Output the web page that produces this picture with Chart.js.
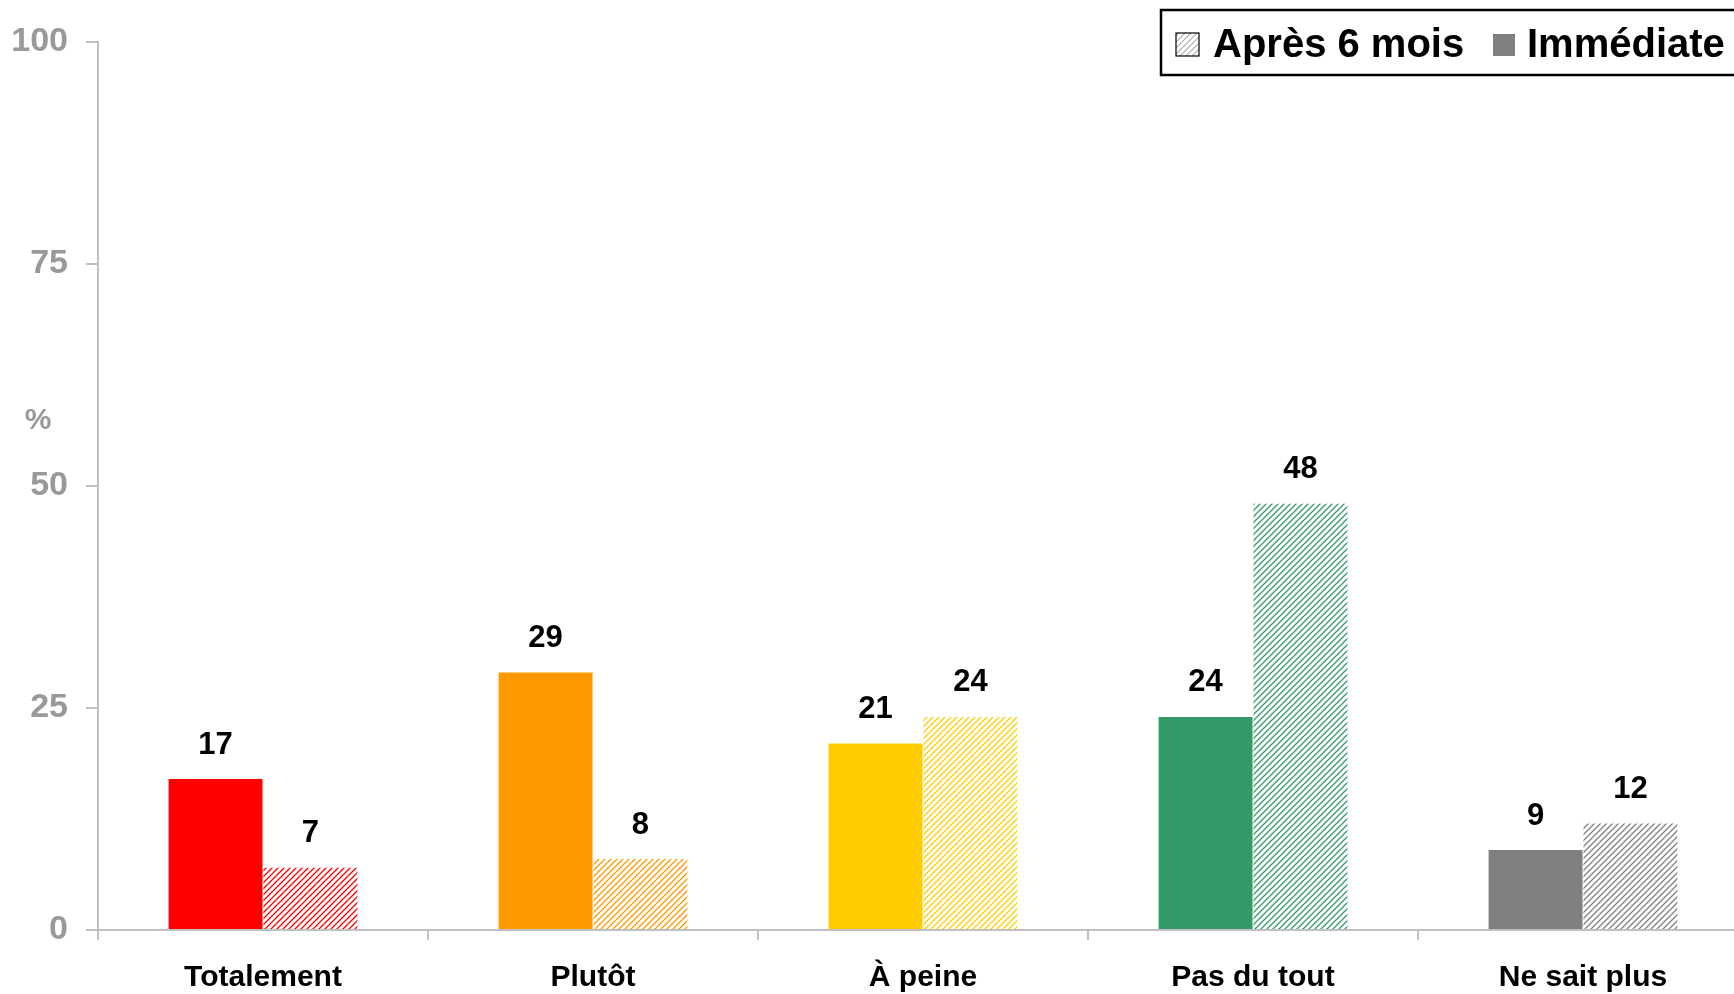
<!DOCTYPE html>
<html><head><meta charset="utf-8">
<script src="https://cdn.jsdelivr.net/npm/chart.js@4.4.1/dist/chart.umd.min.js"></script>
<style>
html,body{margin:0;padding:0;background:#fff;overflow:hidden}
#wrap{width:1760px;height:994px;position:relative}
</style>
</head><body>
<div id="wrap"><canvas id="c"></canvas></div>
<script>
const categories=["Totalement","Plutôt","À peine","Pas du tout","Ne sait plus"];
const immediate=[17,29,21,24,9];
const apres=[7,8,24,48,12];
const barColors=["#ff0000","#ff9900","#ffcc00","#339966","#808080"];
const yTicks=[0,25,50,75,100];
const seriesNames=["Immédiate","Après 6 mois"];
const yUnit="%";

const FONT="'Liberation Sans',Arial,Helvetica,sans-serif";
const cv=document.getElementById("c");
const cx=cv.getContext("2d");

// diagonal hatching like the office chart pattern
function hatch(color,w){
  const s=6,t=document.createElement("canvas");t.width=s;t.height=s;
  const g=t.getContext("2d");
  g.strokeStyle=color;g.lineWidth=w||1.3;
  g.beginPath();
  g.moveTo(0,s);g.lineTo(s,0);
  g.moveTo(-1,1);g.lineTo(1,-1);
  g.moveTo(s-1,s+1);g.lineTo(s+1,s-1);
  g.stroke();
  return cx.createPattern(t,"repeat");
}
const hatchFills=barColors.map(c=>hatch(c));

const valueLabels={
  id:"valueLabels",
  afterDatasetsDraw(ch){
    const c=ch.ctx;c.save();
    c.font="bold 31px "+FONT;c.fillStyle="#000";c.textAlign="center";c.textBaseline="middle";
    ch.data.datasets.forEach((ds,i)=>{
      ch.getDatasetMeta(i).data.forEach((b,j)=>c.fillText(String(ds.data[j]),b.x,b.y-34));
    });
    c.restore();
  }
};

const extras={
  id:"extras",
  afterDraw(ch){
    const c=ch.ctx;c.save();
    // "%" unit
    c.font="bold 30px "+FONT;c.fillStyle="#999";c.textAlign="center";c.textBaseline="middle";
    c.fillText(yUnit,38,421);
    // legend box
    c.strokeStyle="#000";c.lineWidth=2.5;
    c.strokeRect(1161,10,640,65);
    c.font="bold 40px "+FONT;c.fillStyle="#000";c.textAlign="left";
    // hatched item
    c.fillStyle="#fff";c.fillRect(1176,33,23,23);
    c.fillStyle=hatch("#aaa",1.1);c.fillRect(1176,33,23,23);
    c.strokeStyle="#000";c.lineWidth=1.2;c.strokeRect(1176,33,23,23);
    c.fillStyle="#000";c.fillText(seriesNames[1],1213,46);
    // solid item
    c.fillStyle="#808080";c.fillRect(1493,34,22,22);
    c.fillStyle="#000";c.fillText(seriesNames[0],1527,46);
    c.restore();
  }
};

new Chart(cv,{
  type:"bar",
  data:{labels:categories,datasets:[
    {label:seriesNames[0],data:immediate,backgroundColor:barColors,borderWidth:0},
    {label:seriesNames[1],data:apres,backgroundColor:hatchFills,borderWidth:0}
  ]},
  options:{
    responsive:true,maintainAspectRatio:false,animation:false,
    layout:{padding:{top:42,right:12,left:0,bottom:0}},
    datasets:{bar:{categoryPercentage:0.575,barPercentage:0.99}},
    plugins:{legend:{display:false},tooltip:{enabled:false}},
    scales:{
      x:{
        border:{color:"#c0c0c0",width:2},
        grid:{drawOnChartArea:false,drawTicks:true,tickLength:10,color:"#c0c0c0",lineWidth:2,offset:true},
        ticks:{color:"#000",font:{family:FONT,size:30,weight:"bold"},padding:20,maxRotation:0},
        afterFit:s=>{s.height=64;}
      },
      y:{
        min:0,max:100,
        border:{color:"#c0c0c0",width:2},
        grid:{drawOnChartArea:false,drawTicks:true,tickLength:12,color:"#c0c0c0",lineWidth:2},
        afterBuildTicks:s=>{s.ticks=yTicks.map(v=>({value:v}));},
        ticks:{color:"#999",font:{family:FONT,size:34,weight:"bold"},padding:18},
        afterFit:s=>{s.width=98;}
      }
    }
  },
  plugins:[valueLabels,extras]
});
</script>
</body></html>
